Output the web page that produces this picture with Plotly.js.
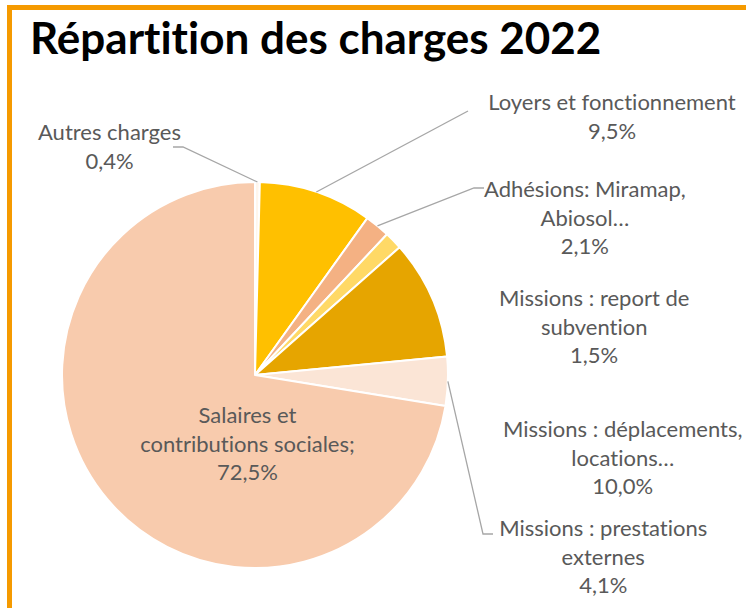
<!DOCTYPE html>
<html><head><meta charset="utf-8">
<script src="https://cdn.plot.ly/plotly-3.0.1.min.js"></script>
<style>
html,body{margin:0;padding:0;background:#fff;}
#wrap{position:relative;width:746px;height:608px;overflow:hidden;}
#chart{width:746px;height:608px;}
#chart text{font-variant-ligatures:none;font-feature-settings:"liga" 0;}
#frame{position:absolute;left:7px;top:5px;width:800px;height:700px;border-top:5px solid #F59A00;border-left:5px solid #F59A00;pointer-events:none;}
</style></head>
<body><div id="wrap"><div id="chart"></div><div id="frame"></div></div>
<script>
const labels = ["Autres charges","Loyers et fonctionnement","Adhésions: Miramap, Abiosol…","Missions : report de subvention","Missions : déplacements, locations…","Missions : prestations externes","Salaires et contributions sociales"];
const values = [0.4, 9.5, 2.1, 1.5, 10.0, 4.1, 72.5];
const labelText = ["Autres charges<br>0,4%","Loyers et fonctionnement<br>9,5%","Adhésions: Miramap,<br>Abiosol…<br>2,1%","Missions : report de<br>subvention<br>1,5%","Missions : déplacements,<br>locations…<br>10,0%","Missions : prestations<br>externes<br>4,1%","Salaires et<br>contributions sociales;<br>72,5%"];
const colors = ["#FFF6EC","#FFC000","#F4B183","#FFD966","#E6A500","#FBE5D6","#F8CBAD"];

const W=746,H=608, cx=255, cy=375, R=193;
const px = x => x/W, py = y => 1 - y/H;

// label anchor centers (px) and leader-line targets
const labelPos = [[110,146],[612,116],[585,217],[594,326],[622,457],[603,556],[247,443]];
const leaderEnd = [[[183,147],[173,147]],[[468,111]],[[474,188],[484,188]],null,null,[[483,534],[493,534]],null];

const total = values.reduce((a,b)=>a+b,0);
let cum = 0;
const shapes = [];
values.forEach((v,i)=>{
  const mid = (cum + v/2)/total*2*Math.PI; cum += v;
  if(!leaderEnd[i]) return;
  const sx = cx + R*Math.sin(mid), sy = cy - R*Math.cos(mid);
  let d = `M${px(sx)},${py(sy)}`;
  leaderEnd[i].forEach(p=>{ d += ` L${px(p[0])},${py(p[1])}`; });
  shapes.push({type:'path', xref:'paper', yref:'paper', path:d, line:{color:'#A6A6A6', width:1.3}});
});

const annotations = labelText.map((t,i)=>({
  x:px(labelPos[i][0]), y:py(labelPos[i][1]), xref:'paper', yref:'paper',
  text:t, showarrow:false, xanchor:'center', yanchor:'middle', align:'center',
  font:{family:'Lato, Open Sans, sans-serif', size:22, color:'#595959'}
}));

const trace = {
  type:'pie', labels:labels, values:values, sort:false, direction:'clockwise', rotation:0,
  marker:{colors:colors, line:{color:'#FFFFFF', width:2}},
  textinfo:'none', hoverinfo:'label+percent', showlegend:false,
  domain:{x:[px(cx-R), px(cx+R)], y:[py(cy+R), py(cy-R)]}
};

const layout = {
  width:W, height:H, margin:{l:0,r:0,t:0,b:0}, paper_bgcolor:'#fff',
  title:{text:'<b>Répartition des charges 2022</b>', x:px(30), xanchor:'left', y:py(39), yanchor:'middle', xref:'paper', yref:'paper',
    font:{family:'Lato, Open Sans, sans-serif', size:44, color:'#000'}},
  shapes:shapes, annotations:annotations, showlegend:false
};
Plotly.newPlot('chart',[trace],layout,{displayModeBar:false,staticPlot:true});
</script></body></html>
